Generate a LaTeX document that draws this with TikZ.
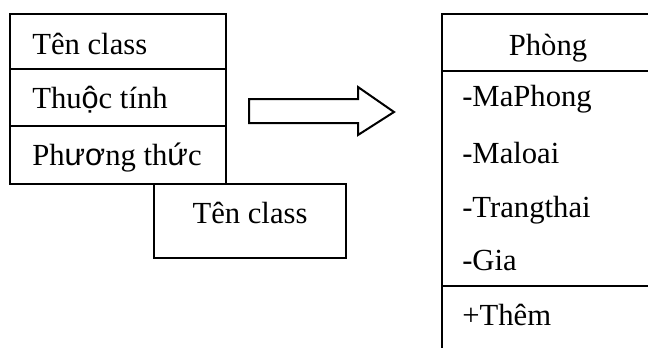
\documentclass[tikz,border=0pt]{standalone}
\usepackage{fontspec}
\setmainfont{Liberation Serif}
\newfontfamily\vnsans{Liberation Sans}
\begin{document}
\begin{tikzpicture}[x=0.75pt,y=-0.75pt,
  box/.style={draw=black,line width=1.5pt},
  lbl/.style={anchor=base west,inner sep=0pt,font=\fontsize{23}{27}\selectfont},
  clbl/.style={anchor=base,inner sep=0pt,font=\fontsize{23}{27}\selectfont}]
\useasboundingbox (0,0) rectangle (648,347);
\clip (0,0) rectangle (648,347);

% generic class box with three compartments
\draw[box] (10,14) rectangle (226,184);
\draw[box] (10,69) -- (226,69);
\draw[box] (10,126) -- (226,126);
\node[lbl] (name)  at (32,54)  {Tên class};
\node[lbl] (attr)  at (32,108) {Thu{\vnsans ộ}c tính};
\node[lbl] (meth)  at (32,165) {Ph{\vnsans ươ}ng th{\vnsans ứ}c};

% collapsed class box
\draw[box,fill=white] (154,184) rectangle (346,258);
\node[clbl] (small) at (250,223) {Tên class};

% block arrow
\draw[box] (249,99) -- (358,99) -- (358,87) -- (394,112) -- (358,135)
  -- (358,123) -- (249,123) -- cycle;

% concrete class
\draw[box] (442,360) -- (442,14) -- (660,14);
\draw[box] (442,71) -- (660,71);
\draw[box] (442,286) -- (660,286);
\node[clbl] (cls) at (548,55) {Phòng};
\node[lbl] (a1) at (462,106) {-MaPhong};
\node[lbl] (a2) at (462,163) {-Maloai};
\node[lbl] (a3) at (462,217) {-Trangthai};
\node[lbl] (a4) at (462,270) {-Gia};
\node[lbl] (m1) at (462,325) {+Thêm};
\end{tikzpicture}
\end{document}
